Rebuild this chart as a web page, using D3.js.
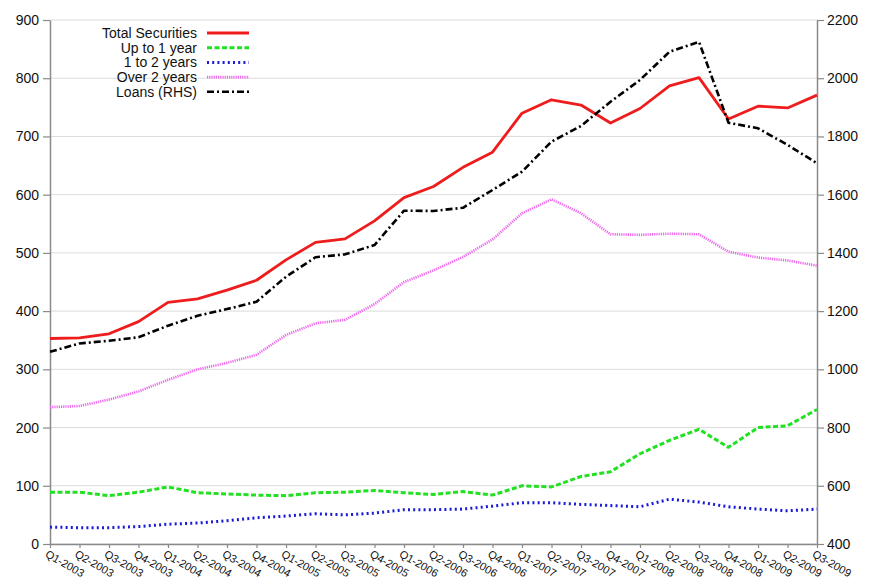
<!DOCTYPE html>
<html>
<head>
<meta charset="utf-8">
<script src="https://cdn.jsdelivr.net/npm/d3@7"></script>
<style>
  body { margin: 0; background: #fff; }
  text { font-family: "Liberation Sans", Arial, sans-serif; fill: #111; }
</style>
</head>
<body>
<script>
// Data
var quarters = ['Q1-2003','Q2-2003','Q3-2003','Q4-2003','Q1-2004','Q2-2004','Q3-2004','Q4-2004',
                'Q1-2005','Q2-2005','Q3-2005','Q4-2005','Q1-2006','Q2-2006','Q3-2006','Q4-2006',
                'Q1-2007','Q2-2007','Q3-2007','Q4-2007','Q1-2008','Q2-2008','Q3-2008','Q4-2008',
                'Q1-2009','Q2-2009','Q3-2009'];
var totalSecurities = [353,354,361,382,415,421,436,453,488,518,524,555,595,614,647,673,
                       740,763,754,723,748,787,801,730,752,749,771];
var upTo1Year = [89,89,83,89,98,88,86,84,83,88,89,92,88,85,90,84,
                 100,98,116,124,155,178,197,166,200,203,231];
var oneTo2Years = [29,28,28,30,34,36,40,45,48,52,50,53,59,59,60,65,
                   71,71,68,66,64,77,72,64,60,57,60];
var over2Years = [235,237,248,262,282,300,311,325,359,379,385,412,450,470,493,523,
                  568,592,568,532,531,533,532,502,492,487,478];
var loans = [1060,1089,1098,1110,1150,1184,1207,1232,1318,1385,1395,1427,1545,1544,1555,1616,
             1679,1782,1836,1919,1994,2091,2125,1847,1828,1771,1708];
var leftTicks = [0,100,200,300,400,500,600,700,800,900];
var rightTicks = [400,600,800,1000,1200,1400,1600,1800,2000,2200];

// Plot boundaries
var margin = {top: 20, right: 53, bottom: 35, left: 50},
    width = 870 - margin.left - margin.right,
    height = 579 - margin.top - margin.bottom;

var xScale = d3.scalePoint().domain(quarters).range([0, width]),
    yLeft = d3.scaleLinear().domain([0, 900]).range([height, 0]),
    yRight = d3.scaleLinear().domain([400, 2200]).range([height, 0]);

var svg = d3.select('body').append('svg')
            .attr('width', 870)
            .attr('height', 579)
            .append('g')
            .attr('transform', 'translate(' + margin.left + ',' + margin.top + ')');

// Gridlines
svg.append('g').selectAll('line')
   .data(leftTicks)
   .enter().append('line')
   .attr('x1', 0).attr('x2', width)
   .attr('y1', function(d) { return yLeft(d); })
   .attr('y2', function(d) { return yLeft(d); })
   .attr('stroke', '#dcdcdc')
   .attr('stroke-width', 1);

// Axes
function styleAxis(g) {
    g.select('.domain').attr('stroke', '#8a8a8a').attr('stroke-width', 1.5);
    g.selectAll('.tick line').attr('stroke', '#8a8a8a').attr('stroke-width', 1.2);
    g.selectAll('.tick text').attr('font-size', 14).style('fill', '#111');
}

svg.append('g')
   .call(d3.axisLeft(yLeft).tickValues(leftTicks).tickSize(7).tickSizeOuter(0).tickPadding(4))
   .call(styleAxis);

svg.append('g')
   .attr('transform', 'translate(' + width + ',0)')
   .call(d3.axisRight(yRight).tickValues(rightTicks).tickFormat(d3.format('d'))
           .tickSize(7).tickSizeOuter(0).tickPadding(3))
   .call(styleAxis);

var xAxis = svg.append('g')
   .attr('transform', 'translate(0,' + height + ')')
   .call(d3.axisBottom(xScale).tickSize(4).tickSizeOuter(0))
   .call(styleAxis);

xAxis.selectAll('.tick text')
   .attr('font-size', 11)
   .attr('text-anchor', 'start')
   .attr('x', 0).attr('y', 0).attr('dy', '0.75em')
   .attr('transform', 'translate(-2,5) rotate(30)');

// Series
var series = [
    {name: 'Total Securities', values: totalSecurities, scale: yLeft, color: '#ee1c1c', width: 2.8, dash: null},
    {name: 'Up to 1 year', values: upTo1Year, scale: yLeft, color: '#22e022', width: 3, dash: '5,2.5'},
    {name: '1 to 2 years', values: oneTo2Years, scale: yLeft, color: '#1a1ad8', width: 3, dash: '2,3.2'},
    {name: 'Over 2 years', values: over2Years, scale: yLeft, color: '#ee66ee', width: 2.6, dash: '1.2,1'},
    {name: 'Loans (RHS)', values: loans, scale: yRight, color: '#000', width: 2.6, dash: '7,3,2,3'}
];

series.forEach(function(s) {
    var drawLine = d3.line()
        .x(function(d, i) { return xScale(quarters[i]); })
        .y(function(d) { return s.scale(d); });
    svg.append('path')
       .attr('d', drawLine(s.values))
       .attr('fill', 'none')
       .attr('stroke', s.color)
       .attr('stroke-width', s.width)
       .attr('stroke-dasharray', s.dash)
       .attr('stroke-linejoin', 'round');
});

// Legend
var legend = svg.append('g').attr('transform', 'translate(' + (197 - margin.left) + ',' + (33 - margin.top) + ')');
series.forEach(function(s, i) {
    var row = legend.append('g').attr('transform', 'translate(0,' + (i * 14.7) + ')');
    row.append('text')
       .text(s.name)
       .attr('text-anchor', 'end')
       .attr('font-size', 14)
       .attr('dy', '0.35em');
    row.append('line')
       .attr('x1', 10).attr('x2', 52)
       .attr('stroke', s.color)
       .attr('stroke-width', s.width)
       .attr('stroke-dasharray', s.dash);
});
</script>
</body>
</html>
